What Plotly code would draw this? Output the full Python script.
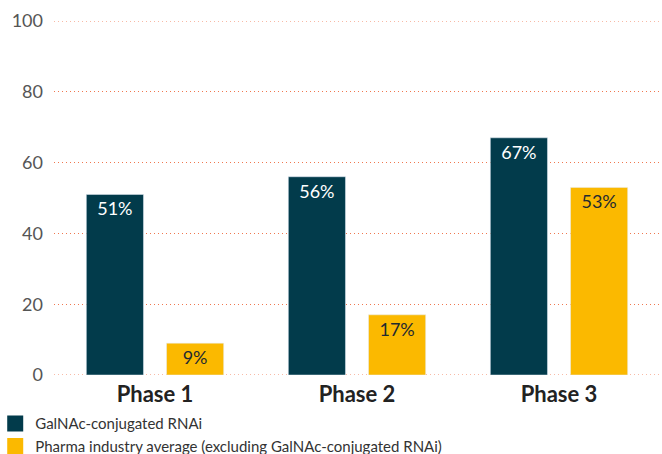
import plotly.graph_objects as go

categories = ["Phase 1", "Phase 2", "Phase 3"]
galnac = [51, 56, 67]
pharma = [9, 17, 53]
series_names = ["GalNAc-conjugated RNAi", "Pharma industry average (excluding GalNAc-conjugated RNAi)"]
y_ticks = [0, 20, 40, 60, 80, 100]

DARK = "#023b4b"
YELLOW = "#fbb900"
GRID = "#f0774f"
DOT = "1px,3px"

fig = go.Figure()
fig.add_trace(go.Bar(
    x=categories, y=galnac, name=series_names[0], marker_color=DARK,
    text=[f"{v}%" for v in galnac], textposition="inside", insidetextanchor="end",
    textangle=0, showlegend=False,
    textfont=dict(color="white", size=18, family="Lato"), cliponaxis=False,
))
fig.add_trace(go.Bar(
    x=categories, y=pharma, name=series_names[1], marker_color=YELLOW,
    text=[f"{v}%" for v in pharma], textposition="inside", insidetextanchor="end",
    textangle=0, showlegend=False,
    textfont=dict(color="#1f2a30", size=18, family="Lato"), cliponaxis=False,
))
# legend entries with larger square swatches
for name, col in zip(series_names, [DARK, YELLOW]):
    fig.add_trace(go.Scatter(
        x=[None], y=[None], mode="markers", name=name,
        marker=dict(symbol="square", size=16, color=col),
    ))

fig.update_layout(
    width=662, height=454,
    margin=dict(l=54, r=2, t=21, b=79, autoexpand=False),
    paper_bgcolor="white", plot_bgcolor="white",
    font=dict(family="Lato", color="#555555"),
    barmode="group", bargap=0.206, bargroupgap=0.2875,
    showlegend=True,
    legend=dict(
        orientation="v", xref="paper", yref="paper",
        x=-0.097, y=-0.091, xanchor="left", yanchor="top",
        font=dict(size=15, color="#333333", family="Lato"),
        itemsizing="trace", tracegroupgap=0,
        bgcolor="rgba(0,0,0,0)",
    ),
    uniformtext=dict(minsize=10, mode="show"),
)
fig.update_xaxes(
    showgrid=False, showline=False, zeroline=False, tickangle=0,
    tickfont=dict(size=22, color="#222222", family="Lato"),
    tickprefix="<b>", ticksuffix="</b>", ticks="", ticklabelstandoff=4,
)
fig.update_yaxes(
    range=[0, 100], tickvals=y_ticks, showgrid=True,
    gridcolor=GRID, griddash=DOT, gridwidth=1,
    zeroline=False, showline=False,
    tickfont=dict(size=18, color="#555555", family="Lato"),
    ticks="", ticklabelstandoff=10,
)
for yv in (y_ticks[0], y_ticks[-1]):
    fig.add_hline(y=yv, line=dict(color=GRID, dash=DOT, width=1), layer="below")

fig.write_html("out.html")
